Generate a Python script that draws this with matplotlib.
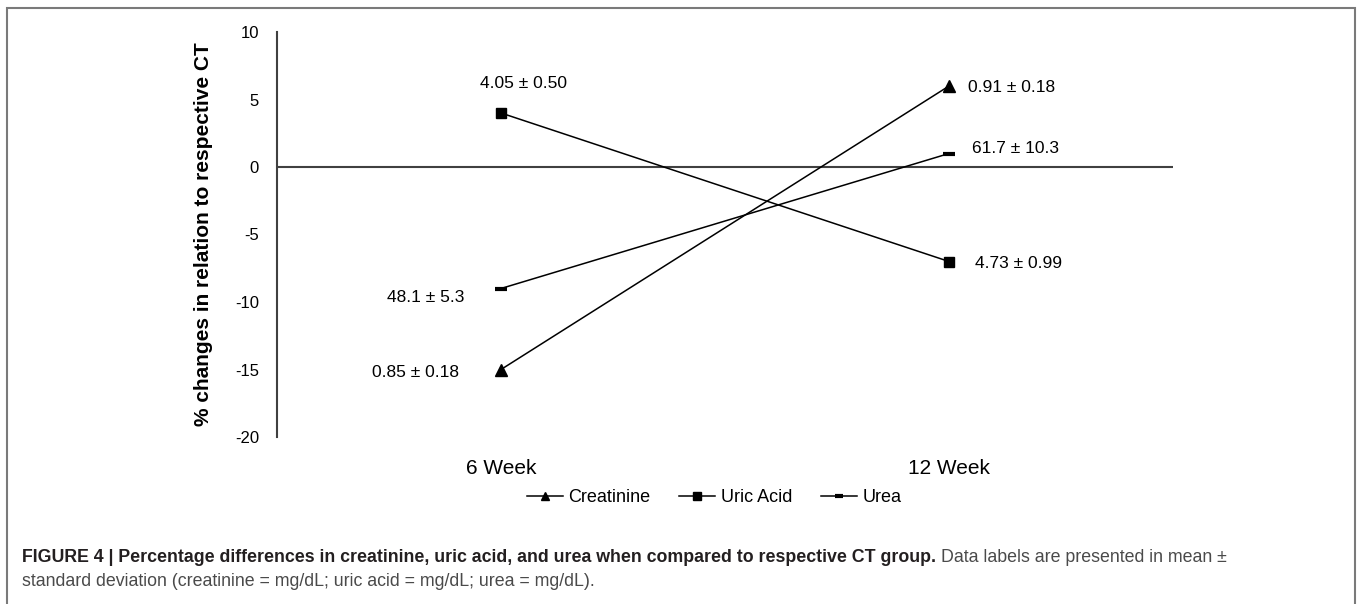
import matplotlib
matplotlib.use("Agg")
import matplotlib.pyplot as plt
from matplotlib import font_manager
from matplotlib.patches import Rectangle

plt.rcParams['font.family'] = ['Liberation Sans', 'DejaVu Sans']

categories = ["6 Week", "12 Week"]
creatinine = [-15, 6]
uric_acid = [4, -7]
urea = [-9, 1]
creatinine_labels = ["0.85 ± 0.18", "0.91 ± 0.18"]
uric_labels = ["4.05 ± 0.50", "4.73 ± 0.99"]
urea_labels = ["48.1 ± 5.3", "61.7 ± 10.3"]
yticks = [10, 5, 0, -5, -10, -15, -20]

W, H = 1358, 604
fig = plt.figure(figsize=(W / 100, H / 100), dpi=100)
ax = fig.add_axes([277 / W, 1 - 437 / H, (1173 - 277) / W, (437 - 32) / H])

x = list(range(len(categories)))
lc = '#000000'
ax.plot(x, creatinine, color=lc, lw=1.1, marker='^', ms=8, label='Creatinine')
ax.plot(x, uric_acid, color=lc, lw=1.1, marker='s', ms=7.5, label='Uric Acid')
ax.plot(x, urea, color=lc, lw=1.1, marker='_', ms=8, mew=3, label='Urea')

ax.set_xlim(-0.5, 1.5)
ax.set_ylim(-20, 10)
ax.set_yticks(yticks)
ax.set_yticklabels([str(v) for v in yticks], fontsize=12)
ax.tick_params(axis='y', length=0, pad=13)
ax.set_xticks(x)
ax.set_xticklabels(categories, fontsize=15)
ax.tick_params(axis='x', length=0, pad=16)
for s in ['top', 'right', 'bottom']:
    ax.spines[s].set_visible(False)
ax.spines['left'].set_color('#404040')
ax.spines['left'].set_linewidth(1.5)
ax.axhline(0, color='#404040', lw=1.5, zorder=1)
ax.set_ylabel('% changes in relation to respective CT', fontsize=15, fontweight='bold', labelpad=16)

fs = 12.5
def lab(xi, yi, txt, dx, dy, ha):
    ax.annotate(txt, (xi, yi), xytext=(dx, dy), textcoords='offset pixels',
                ha=ha, va='center', fontsize=fs)

lab(0, uric_acid[0], uric_labels[0], 22, 29, 'center')
lab(0, urea[0], urea_labels[0], -37, -9, 'right')
lab(0, creatinine[0], creatinine_labels[0], -42, -3, 'right')
lab(1, creatinine[1], creatinine_labels[1], 19, -1, 'left')
lab(1, urea[1], urea_labels[1], 23, 5, 'left')
lab(1, uric_acid[1], uric_labels[1], 26, -2, 'left')

leg = fig.legend(loc='center', bbox_to_anchor=(714 / W, 1 - 498 / H), ncol=3, frameon=False,
                 fontsize=13, handlelength=2.0, handletextpad=0.3, columnspacing=1.6, markerscale=0.75)

# frame
fig.patches.append(Rectangle((7 / W, -0.05), (1355 - 7) / W, 1.05 - 8 / H, transform=fig.transFigure,
                             fill=False, edgecolor='#7a7a7a', lw=1.5))

names = {f.name for f in font_manager.fontManager.ttflist}
capfam = ['Liberation Sans Narrow', 'Liberation Sans'] if 'Liberation Sans Narrow' in names else ['Liberation Sans']
cfs = 12.8
t1 = fig.text(22 / W, 1 - 558 / H, "FIGURE 4 | Percentage differences in creatinine, uric acid, and urea when compared to respective CT group.",
              fontsize=cfs, fontweight='bold', family=capfam, color='#231f20', va='center', ha='left')
fig.canvas.draw()
bb = t1.get_window_extent()
fig.text((bb.x1 + 5) / W, 1 - 558 / H, "Data labels are presented in mean ±", fontsize=cfs,
         family=capfam, color='#4a4a4a', va='center', ha='left')
fig.text(22 / W, 1 - 582 / H, "standard deviation (creatinine = mg/dL; uric acid = mg/dL; urea = mg/dL).",
         fontsize=cfs, family=capfam, color='#4a4a4a', va='center', ha='left')

fig.savefig('out.png', dpi=100)
